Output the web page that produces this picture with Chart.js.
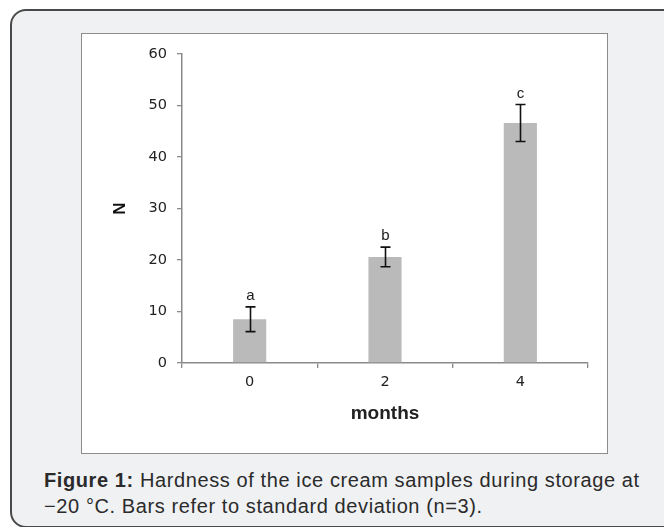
<!DOCTYPE html>
<html>
<head>
<meta charset="utf-8">
<script src="https://cdn.jsdelivr.net/npm/chart.js@4.4.0/dist/chart.umd.min.js"></script>
<style>
    html, body { margin: 0; padding: 0; background: #ffffff; width: 664px; height: 527px; overflow: hidden; }
    .panel {
        position: absolute; left: 10px; top: 9px; width: 700px; height: 515px;
        background: #f0f1f3; border: 2px solid #4a4a4a; border-radius: 16px;
    }
    .figure {
        position: absolute; left: 81px; top: 33px; width: 525px; height: 419px;
        background: #ffffff; border: 1px solid #8c8c8c;
    }
    #chart { position: absolute; left: 0; top: 0; }
    .caption {
        position: absolute; left: 44px; top: 467px; width: 640px;
        font-family: "Liberation Sans", Arial, sans-serif; font-size: 20px; line-height: 26px;
        letter-spacing: 0.6px; color: #2b2b2b; white-space: nowrap;
    }
</style>
</head>
<body>
<div class="panel"></div>
<div class="figure"><canvas id="chart" width="525" height="419"></canvas></div>
<div class="caption"><b>Figure 1:</b> Hardness of the ice cream samples during storage at<br>&minus;20 &deg;C. Bars refer to standard deviation (n=3).</div>

<script>
const months = ["0", "2", "4"];
const hardness = [8.5, 20.6, 46.6];
const stdDev = [2.4, 1.9, 3.6];
const groupLetters = ["a", "b", "c"];
const yTicks = [0, 10, 20, 30, 40, 50, 60];

const axisGray = "#8a8a8a";
const tickFont = { family: "DejaVu Sans", size: 14.5 };

// error bars + significance letters, placed through the chart scales
const errorBarPlugin = {
    id: "errorBars",
    afterDatasetsDraw(chart) {
        const ctx = chart.ctx;
        const x = chart.scales.x;
        const y = chart.scales.y;
        ctx.save();
        ctx.strokeStyle = "#111111";
        ctx.lineWidth = 1.6;
        hardness.forEach((v, i) => {
            const cx = Math.round(x.getPixelForValue(i)) + 0.5;
            const top = y.getPixelForValue(v + stdDev[i]);
            const bottom = y.getPixelForValue(v - stdDev[i]);
            ctx.beginPath();
            ctx.moveTo(cx, top);
            ctx.lineTo(cx, bottom);
            ctx.moveTo(cx - 5, top);
            ctx.lineTo(cx + 5, top);
            ctx.moveTo(cx - 5, bottom);
            ctx.lineTo(cx + 5, bottom);
            ctx.stroke();

            ctx.fillStyle = "#1a1a1a";
            ctx.font = "15px 'Liberation Sans'";
            ctx.textAlign = "center";
            ctx.textBaseline = "middle";
            ctx.fillText(groupLetters[i], cx, top - 11);
        });
        ctx.restore();
    }
};

const chart = new Chart(document.getElementById("chart"), {
    type: "bar",
    data: {
        labels: months,
        datasets: [{
            data: hardness,
            backgroundColor: "#bababa",
            borderWidth: 0,
            categoryPercentage: 1,
            barPercentage: 0.245
        }]
    },
    options: {
        responsive: false,
        animation: false,
        layout: { padding: { left: 0, top: 20, right: 19, bottom: 0 } },
        plugins: { legend: { display: false }, tooltip: { enabled: false } },
        scales: {
            x: {
                offset: true,
                grid: {
                    offset: true, drawOnChartArea: false, drawTicks: true,
                    tickLength: 5, color: axisGray, lineWidth: 1.3
                },
                border: { color: axisGray, width: 1.5 },
                ticks: { color: "#222222", font: tickFont, padding: 6 },
                title: {
                    display: true, text: "months", color: "#222222",
                    font: { family: "Liberation Sans", size: 19, weight: "bold" },
                    padding: { top: 0, bottom: 28 }
                },
                afterFit(scale) { scale.height = 90; }
            },
            y: {
                min: 0, max: 60,
                afterBuildTicks(scale) { scale.ticks = yTicks.map(v => ({ value: v })); },
                grid: {
                    drawOnChartArea: false, drawTicks: true,
                    tickLength: 5, color: axisGray, lineWidth: 1.3
                },
                border: { color: axisGray, width: 1.5 },
                ticks: { color: "#222222", font: tickFont, padding: 10 },
                title: {
                    display: true, text: "N", color: "#111111",
                    font: { family: "Liberation Sans", size: 17, weight: "bold" },
                    padding: { top: 28, bottom: 0 }
                },
                afterFit(scale) { scale.width = 100; }
            }
        }
    },
    plugins: [errorBarPlugin]
});
</script>
</body>
</html>
